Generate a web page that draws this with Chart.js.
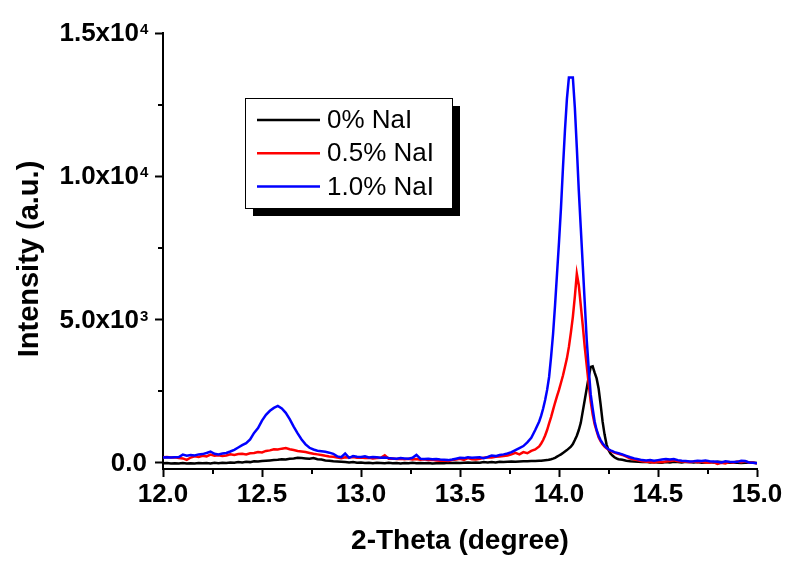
<!DOCTYPE html>
<html>
<head>
<meta charset="utf-8">
<title>XRD scan - NaI doping</title>
<script src="https://cdn.jsdelivr.net/npm/chart.js"></script>
<style>
  html, body { margin: 0; padding: 0; background: #fff; }
  #wrap { width: 790px; height: 562px; }
</style>
</head>
<body>
<div id="wrap"><canvas id="xrdChart" width="790" height="562"></canvas></div>
<script>
// 2-theta sampling: 0.02 deg steps, 0.01 deg across the main reflection
function stepRange(from, to, step) {
  const out = [];
  const n = Math.round((to - from) / step);
  for (let i = 0; i <= n; i++) out.push(+(from + i * step).toFixed(2));
  return out;
}
const theta = [].concat(
  stepRange(12.00, 13.88, 0.02),
  stepRange(13.90, 14.30, 0.01),
  stepRange(14.32, 15.00, 0.02)
);

const seriesLabels = ['0% NaI', '0.5% NaI', '1.0% NaI'];
const seriesColors = ['#000000', '#ff0000', '#0000ff'];

// intensities (a.u.), same order as theta
const nai0 = [
  // 12.00 - 13.88
  -10, 0, -20, -10, -20, 0, -20, -10, -20, 0,
  -10, 0, -20, 10, -10, 10, 0, 20, 10, 30,
  20, 40, 30, 60, 50, 70, 80, 90, 100, 110,
  130, 120, 150, 160, 180, 170, 160, 150, 170, 130,
  120, 90, 80, 60, 50, 40, 30, 20, 30, 10,
  20, 0, 10, -10, 10, 0, -10, 10, -10, 0,
  -20, 0, -10, 10, -10, 0, -10, 0, -20, -10,
  0, -10, 10, 0, 10, 0, 10, 20, 10, 20,
  10, 30, 20, 30, 20, 40, 30, 40, 50, 40,
  50, 60, 60, 70, 70,
  // 13.90 - 14.30
  80, 80, 90, 95, 100, 115, 130, 150, 180, 220,
  260, 300, 350, 400, 450, 510, 570, 660, 800, 950,
  1150, 1400, 1800, 2200, 2600, 3000, 3350, 3370, 3150, 2950,
  2600, 2050, 1450, 1000, 650, 450, 330, 260, 200, 160,
  130,
  // 14.32 - 15.00
  110, 80, 60, 50, 40, 30, 40, 20, 30, 20,
  10, 30, 20, 40, 30, 20, 40, 30, 20, 30,
  10, 20, 30, 20, 40, 30, 20, 10, 20, 10,
  0, 10, 20, 10, 0
];

const nai05 = [
  // 12.00 - 13.88
  200, 210, 190, 200, 170, 160, 110, 190, 230, 210,
  250, 230, 290, 250, 270, 240, 260, 300, 280, 310,
  320, 300, 340, 350, 380, 370, 420, 440, 480, 470,
  500, 520, 480, 450, 420, 400, 380, 350, 320, 300,
  280, 250, 230, 220, 190, 170, 200, 190, 210, 180,
  190, 170, 180, 160, 170, 180, 270, 150, 160, 140,
  150, 130, 150, 120, 140, 110, 130, 100, 110, 90,
  80, 90, 70, 100, 120, 150, 110, 170, 130, 120,
  150, 180, 200, 190, 220, 230, 240, 260, 300, 350,
  300, 380, 340, 420, 470,
  // 13.90 - 14.30
  580, 680, 800, 960, 1150, 1380, 1600, 1850, 2100, 2330,
  2550, 2800, 3050, 3350, 3650, 4050, 4550, 5100, 5800, 6600,
  6200, 5500, 4800, 4050, 3400, 2750, 2150, 1700, 1350, 1120,
  900, 760, 650, 570, 510, 460, 420, 390, 360, 340,
  320,
  // 14.32 - 15.00
  280, 220, 150, 120, 90, 60, 40, 30, 20, 40,
  30, 50, 70, 90, 60, 50, 40, 30, 50, 30,
  40, 20, 10, 30, -30, 10, -20, 30, 10, 50,
  30, 60, 10, 20, -20
];

const nai10 = [
  // 12.00 - 13.88
  190, 200, 190, 200, 210, 290, 250, 280, 260, 300,
  310, 350, 400, 320, 300, 330, 350, 400, 460, 540,
  620, 690, 820, 1050, 1220, 1480, 1680, 1820, 1920, 1990,
  1900, 1750, 1530, 1270, 1030, 820, 650, 530, 470, 430,
  410, 390, 360, 320, 230, 200, 330, 180, 240, 220,
  210, 230, 190, 210, 200, 180, 190, 170, 160, 150,
  170, 160, 150, 180, 280, 150, 140, 150, 130, 140,
  120, 110, 100, 120, 150, 180, 170, 200, 180, 190,
  200, 170, 210, 260, 240, 280, 300, 330, 380, 450,
  520, 590, 720, 880, 1150,
  // 13.90 - 14.30
  1450, 1650, 1900, 2200, 2550, 3000, 3700, 4500, 5500, 6600,
  7700, 8900, 10300, 11600, 12700, 13450, 13450, 13450, 12400, 11000,
  9500, 8200, 6900, 5600, 4300, 3300, 2400, 1900, 1450, 1150,
  950, 800, 690, 600, 530, 480, 440, 410, 380, 360,
  340,
  // 14.32 - 15.00
  300, 250, 200, 160, 130, 100, 90, 100, 80, 100,
  120, 140, 120, 140, 100, 80, 70, 50, 60, 80,
  70, 90, 60, 50, 40, 20, 60, 40, 30, 40,
  80, 70, 20, 10, -10
];

const xTicks = [12.0, 12.5, 13.0, 13.5, 14.0, 14.5, 15.0];
const xMinorTicks = [12.25, 12.75, 13.25, 13.75, 14.25, 14.75];
const yTicks = [0, 5000, 10000, 15000];
const yTickMantissa = ['0.0', '5.0x10', '1.0x10', '1.5x10'];
const yTickExponent = ['', '3', '4', '4'];
const yMinorTicks = [2500, 7500, 12500];

const FONT = '"Liberation Sans", Arial, Helvetica, sans-serif';

const toPoints = (ys) => ys.map((v, i) => ({ x: theta[i], y: v }));

// minor ticks, exponent tick labels, y title and the boxed legend
const xrdDecor = {
  id: 'xrdDecor',
  afterDraw(chart) {
    const { ctx, chartArea: area, scales: { x, y } } = chart;
    ctx.save();

    ctx.strokeStyle = '#000';
    ctx.lineWidth = 2;
    ctx.beginPath();
    xMinorTicks.forEach((v) => {
      const px = Math.round(x.getPixelForValue(v));
      ctx.moveTo(px, area.bottom);
      ctx.lineTo(px, area.bottom + 5);
    });
    yMinorTicks.forEach((v) => {
      const py = Math.round(y.getPixelForValue(v));
      ctx.moveTo(area.left - 5, py);
      ctx.lineTo(area.left, py);
    });
    ctx.stroke();

    // y labels as mantissa x 10 with a raised exponent
    ctx.fillStyle = '#000';
    yTicks.forEach((v, i) => {
      const py = y.getPixelForValue(v);
      const exp = yTickExponent[i];
      ctx.font = 'bold 26px ' + FONT;
      ctx.textAlign = 'right';
      ctx.textBaseline = 'middle';
      ctx.fillText(yTickMantissa[i], exp ? area.left - 24 : area.left - 16, py + 1);
      if (exp) {
        ctx.font = 'bold 15px ' + FONT;
        ctx.textAlign = 'left';
        ctx.textBaseline = 'alphabetic';
        ctx.fillText(exp, area.left - 23, py + 1);
      }
    });

    ctx.save();
    ctx.translate(30, 259);
    ctx.rotate(-Math.PI / 2);
    ctx.textAlign = 'center';
    ctx.textBaseline = 'middle';
    ctx.font = 'bold 29px ' + FONT;
    ctx.fillText('Intensity (a.u.)', 0, 0);
    ctx.restore();

    const box = { left: 245, top: 98, width: 207, height: 110, shadow: 8 };
    ctx.fillStyle = '#000';
    ctx.fillRect(box.left + box.shadow, box.top + box.shadow, box.width, box.height);
    ctx.fillStyle = '#fff';
    ctx.fillRect(box.left, box.top, box.width, box.height);
    ctx.lineWidth = 1;
    ctx.strokeStyle = '#000';
    ctx.strokeRect(box.left + 0.5, box.top + 0.5, box.width, box.height);

    ctx.textAlign = 'left';
    ctx.textBaseline = 'middle';
    ctx.font = '26px ' + FONT;
    chart.data.datasets.forEach((ds, i) => {
      const ly = box.top + 22 + i * 33.3;
      ctx.strokeStyle = ds.borderColor;
      ctx.lineWidth = 2.5;
      ctx.beginPath();
      ctx.moveTo(box.left + 12, ly);
      ctx.lineTo(box.left + 75, ly);
      ctx.stroke();
      ctx.fillStyle = '#000';
      ctx.fillText(ds.label, box.left + 82, ly + 1);
    });

    ctx.restore();
  }
};

const ctx = document.getElementById('xrdChart').getContext('2d');
const xrdChart = new Chart(ctx, {
  type: 'line',
  data: {
    datasets: [
      { label: seriesLabels[0], data: toPoints(nai0), borderColor: seriesColors[0], order: 3 },
      { label: seriesLabels[1], data: toPoints(nai05), borderColor: seriesColors[1], order: 2 },
      { label: seriesLabels[2], data: toPoints(nai10), borderColor: seriesColors[2], order: 1 }
    ]
  },
  options: {
    responsive: false,
    animation: false,
    elements: {
      point: { radius: 0 },
      line: { borderWidth: 2.5, tension: 0, fill: false }
    },
    layout: { padding: { top: 33, right: 33, left: 0, bottom: 0 } },
    plugins: {
      legend: { display: false },
      tooltip: { enabled: false }
    },
    scales: {
      x: {
        type: 'linear',
        min: 12,
        max: 15,
        afterBuildTicks: (axis) => { axis.ticks = xTicks.map((v) => ({ value: v })); },
        afterFit: (axis) => { axis.height = 93; },
        border: { color: '#000', width: 2 },
        grid: { drawOnChartArea: false, drawTicks: true, tickLength: 8, tickColor: '#000', tickWidth: 2 },
        ticks: {
          color: '#000',
          padding: 2,
          maxRotation: 0,
          autoSkip: false,
          font: { family: FONT, size: 26, weight: 'bold' },
          callback: (v) => Number(v).toFixed(1)
        },
        title: {
          display: true,
          text: '2-Theta (degree)',
          color: '#000',
          font: { family: FONT, size: 28, weight: 'bold' },
          padding: { top: 0, bottom: 4 }
        }
      },
      y: {
        min: -210,
        max: 15000,
        afterBuildTicks: (axis) => { axis.ticks = yTicks.map((v) => ({ value: v })); },
        afterFit: (axis) => { axis.width = 163; },
        border: { color: '#000', width: 2 },
        grid: { drawOnChartArea: false, drawTicks: true, tickLength: 8, tickColor: '#000', tickWidth: 2 },
        ticks: { display: false }
      }
    }
  },
  plugins: [xrdDecor]
});
</script>
</body>
</html>
